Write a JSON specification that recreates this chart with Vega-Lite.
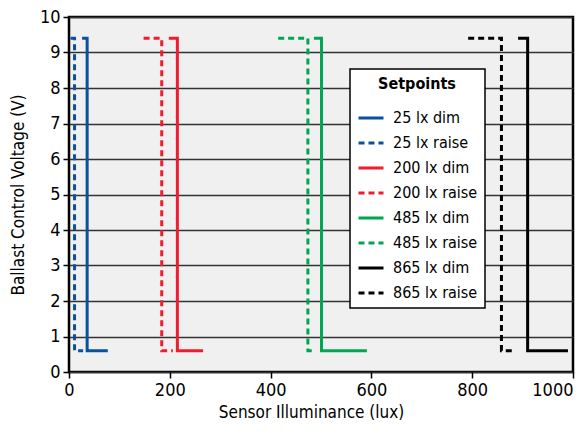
{
  "$schema": "https://vega.github.io/schema/vega-lite/v6.json",
  "width": 504,
  "height": 355,
  "autosize": {"type": "none"},
  "padding": {"left": 69, "top": 17, "right": 11, "bottom": 60},
  "background": "white",
  "config": {
    "font": "DejaVu Sans Condensed",
    "view": {"fill": "#f0f0f0", "stroke": "black", "strokeWidth": 2.5},
    "axis": {
      "labelFont": "DejaVu Sans Condensed",
      "titleFont": "DejaVu Sans Condensed",
      "labelFontSize": 18,
      "titleFontSize": 17,
      "titleFontWeight": "normal",
      "labelColor": "black",
      "titleColor": "black",
      "tickColor": "black",
      "tickSize": 6,
      "tickWidth": 1.5,
      "domain": false
    },
    "legend": {
      "labelFont": "DejaVu Sans Condensed",
      "titleFont": "DejaVu Sans Condensed"
    }
  },
  "data": {
    "values": [
      {"s": "25 lx dim", "i": 0, "x": 26, "y": 9.4},
      {"s": "25 lx dim", "i": 1, "x": 36, "y": 9.4},
      {"s": "25 lx dim", "i": 2, "x": 36, "y": 0.6},
      {"s": "25 lx dim", "i": 3, "x": 77, "y": 0.6},
      {"s": "25 lx raise", "i": 0, "x": 3, "y": 9.4},
      {"s": "25 lx raise", "i": 1, "x": 11, "y": 9.4},
      {"s": "25 lx raise", "i": 2, "x": 11, "y": 0.6},
      {"s": "25 lx raise", "i": 3, "x": 28, "y": 0.6},
      {"s": "200 lx dim", "i": 0, "x": 198, "y": 9.4},
      {"s": "200 lx dim", "i": 1, "x": 215, "y": 9.4},
      {"s": "200 lx dim", "i": 2, "x": 215, "y": 0.6},
      {"s": "200 lx dim", "i": 3, "x": 266, "y": 0.6},
      {"s": "200 lx raise", "i": 0, "x": 148, "y": 9.4},
      {"s": "200 lx raise", "i": 1, "x": 184, "y": 9.4},
      {"s": "200 lx raise", "i": 2, "x": 184, "y": 0.6},
      {"s": "200 lx raise", "i": 3, "x": 206, "y": 0.6},
      {"s": "485 lx dim", "i": 0, "x": 486, "y": 9.4},
      {"s": "485 lx dim", "i": 1, "x": 501, "y": 9.4},
      {"s": "485 lx dim", "i": 2, "x": 501, "y": 0.6},
      {"s": "485 lx dim", "i": 3, "x": 591, "y": 0.6},
      {"s": "485 lx raise", "i": 0, "x": 415, "y": 9.4},
      {"s": "485 lx raise", "i": 1, "x": 474, "y": 9.4},
      {"s": "485 lx raise", "i": 2, "x": 474, "y": 0.6},
      {"s": "485 lx raise", "i": 3, "x": 487, "y": 0.6},
      {"s": "865 lx dim", "i": 0, "x": 891, "y": 9.4},
      {"s": "865 lx dim", "i": 1, "x": 910, "y": 9.4},
      {"s": "865 lx dim", "i": 2, "x": 910, "y": 0.6},
      {"s": "865 lx dim", "i": 3, "x": 990, "y": 0.6},
      {"s": "865 lx raise", "i": 0, "x": 792, "y": 9.4},
      {"s": "865 lx raise", "i": 1, "x": 858, "y": 9.4},
      {"s": "865 lx raise", "i": 2, "x": 858, "y": 0.6},
      {"s": "865 lx raise", "i": 3, "x": 884, "y": 0.6}
    ]
  },
  "mark": {"type": "line", "strokeWidth": 3, "strokeCap": "butt", "strokeJoin": "miter", "interpolate": "linear"},
  "encoding": {
    "x": {
      "field": "x", "type": "quantitative",
      "scale": {"domain": [0, 1000], "nice": false},
      "axis": {
        "values": [0, 200, 400, 600, 800, 1000], "format": "d", "grid": false,
        "title": "Sensor Illuminance (lux)", "titlePadding": 5, "titleX": 242,
        "labelPadding": 3, "labelFlush": false,
        "labelAlign": {"expr": "datum.value == 1000 ? 'right' : 'center'"}
      }
    },
    "y": {
      "field": "y", "type": "quantitative",
      "scale": {"domain": [0, 10], "nice": false},
      "axis": {"values": [0,1,2,3,4,5,6,7,8,9,10], "grid": true, "gridColor": "#333333", "gridWidth": 1.5, "gridOpacity": 1, "title": "Ballast Control Voltage (V)", "titlePadding": 12, "labelPadding": 3}
    },
    "order": {"field": "i", "type": "quantitative"},
    "color": {
      "field": "s", "type": "nominal",
      "scale": {
        "domain": ["25 lx dim", "25 lx raise", "200 lx dim", "200 lx raise", "485 lx dim", "485 lx raise", "865 lx dim", "865 lx raise"],
        "range": ["#0a509e", "#0a509e", "#ee1c2e", "#ee1c2e", "#00a651", "#00a651", "#000000", "#000000"]
      },
      "legend": {
        "title": "Setpoints",
        "orient": "none",
        "legendX": 281,
        "legendY": 52,
        "fillColor": "white",
        "strokeColor": "black",
        "padding": 7,
        "titleFontSize": 16,
        "titleFontWeight": "bold",
        "titleAnchor": "middle",
        "titleColor": "black",
        "titlePadding": 12,
        "labelFontSize": 16,
        "labelColor": "black",
        "labelOffset": 8,
        "rowPadding": 3,
        "symbolType": "stroke",
        "symbolSize": 625,
        "symbolStrokeWidth": 3,
        "labelLimit": 200,
        "encode": {"legend": {"update": {"strokeWidth": {"value": 1.5}}}}
      }
    },
    "strokeDash": {
      "field": "s", "type": "nominal",
      "scale": {
        "domain": ["25 lx dim", "25 lx raise", "200 lx dim", "200 lx raise", "485 lx dim", "485 lx raise", "865 lx dim", "865 lx raise"],
        "range": [[1, 0], [6, 4], [1, 0], [6, 4], [1, 0], [6, 4], [1, 0], [6, 4]]
      },
      "legend": {
        "title": "Setpoints",
        "orient": "none",
        "legendX": 281,
        "legendY": 52,
        "fillColor": "white",
        "strokeColor": "black",
        "padding": 7,
        "titleFontSize": 16,
        "titleFontWeight": "bold",
        "titleAnchor": "middle",
        "titleColor": "black",
        "titlePadding": 12,
        "labelFontSize": 16,
        "labelColor": "black",
        "labelOffset": 8,
        "rowPadding": 3,
        "symbolType": "stroke",
        "symbolSize": 625,
        "symbolStrokeWidth": 3,
        "labelLimit": 200,
        "encode": {"legend": {"update": {"strokeWidth": {"value": 1.5}}}}
      }
    }
  }
}
